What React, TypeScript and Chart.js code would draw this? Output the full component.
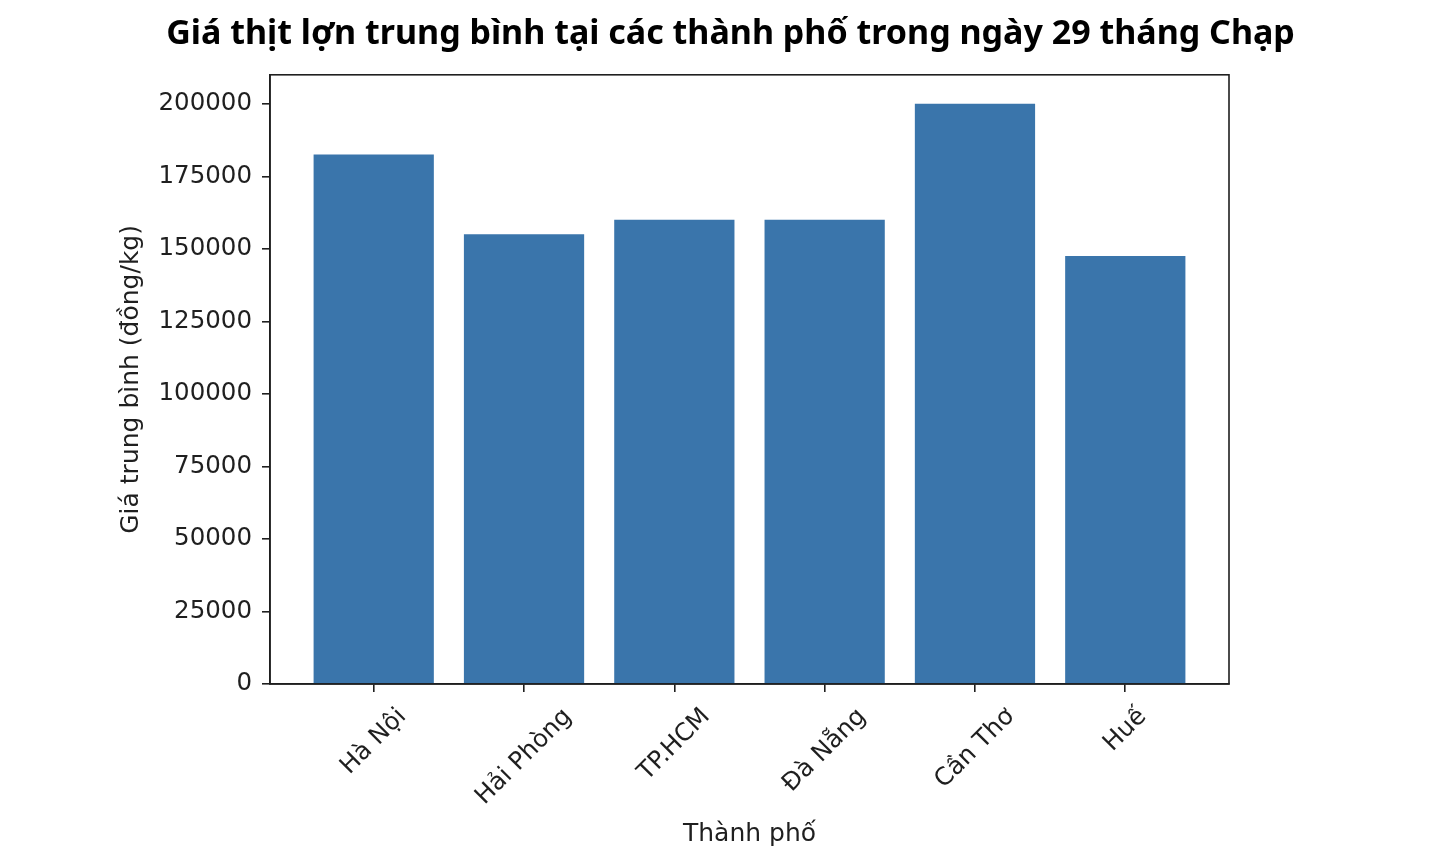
import { useEffect, useRef } from "react"
import { Chart, registerables } from "chart.js"

Chart.register(...registerables)

const cities = ["Hà Nội", "Hải Phòng", "TP.HCM", "Đà Nẵng", "Cần Thơ", "Huế"]
const prices = [182500, 155000, 160000, 160000, 200000, 147500]
const yTicks = [0, 25000, 50000, 75000, 100000, 125000, 150000, 175000, 200000]

const TITLE = "Giá thịt lợn trung bình tại các thành phố trong ngày 29 tháng Chạp"
const AXIS_FONT = "'DejaVu Sans', sans-serif"
const INK = "#1f1f1f"

// matplotlib-style rotated labels: centred under the tick, not right-aligned
const xLabels = {
  id: "xLabels",
  afterDraw(chart: Chart) {
    const { ctx, scales } = chart
    const x = scales.x
    const top = chart.chartArea.bottom + 19
    ctx.save()
    ctx.font = `24.5px ${AXIS_FONT}`
    ctx.fillStyle = INK
    ctx.textAlign = "center"
    ctx.textBaseline = "middle"
    cities.forEach((name, i) => {
      const w = ctx.measureText(name).width
      const cx = x.getPixelForValue(i)
      const cy = top + (w + 28) * 0.3536
      ctx.save()
      ctx.translate(cx, cy)
      ctx.rotate(-Math.PI / 4)
      ctx.fillText(name, 0, 0)
      ctx.restore()
    })
    ctx.restore()
  },
}

// box around the plot area
const frame = {
  id: "frame",
  afterDraw(chart: Chart) {
    const { ctx, chartArea } = chart
    ctx.save()
    ctx.strokeStyle = INK
    ctx.lineWidth = 1.6
    ctx.strokeRect(chartArea.left, chartArea.top, chartArea.right - chartArea.left, chartArea.bottom - chartArea.top)
    ctx.restore()
  },
}

function PriceChart() {
  const chartRef = useRef<HTMLCanvasElement>(null)
  const chartInstance = useRef<Chart | null>(null)

  useEffect(() => {
    if (!chartRef.current) return
    if (chartInstance.current) chartInstance.current.destroy()
    const ctx = chartRef.current.getContext("2d")
    if (!ctx) return

    chartInstance.current = new Chart(ctx, {
      type: "bar",
      data: {
        datasets: [
          {
            label: "Giá trung bình",
            data: prices.map((p, i) => ({ x: i, y: p })),
            backgroundColor: "#3a75ab",
            borderWidth: 0,
            categoryPercentage: 1,
            barPercentage: 0.8,
          },
        ],
      },
      options: {
        responsive: false,
        animation: false,
        layout: { padding: { left: 9, right: 0, top: 0, bottom: 0 } },
        plugins: {
          legend: { display: false },
          tooltip: { enabled: false },
          title: {
            display: true,
            text: TITLE,
            color: "#000",
            font: { family: "'Noto Sans', sans-serif", size: 34, weight: "bold", lineHeight: 1.2 },
            padding: { top: 14, bottom: 20 },
          },
        },
        scales: {
          x: {
            type: "linear",
            position: "bottom",
            min: -0.69,
            max: 5.69,
            offset: false,
            afterBuildTicks: (s) => {
              s.ticks = cities.map((_, i) => ({ value: i }))
            },
            afterFit: (s) => {
              s.height = 178
            },
            ticks: { display: false },
            grid: { offset: false, drawOnChartArea: false, drawTicks: true, tickLength: 8, color: INK, lineWidth: 1.6 },
            border: { display: true, color: INK, width: 1.6 },
            title: {
              display: true,
              text: "Thành phố",
              color: INK,
              font: { family: AXIS_FONT, size: 25 },
              padding: { top: 0, bottom: 13 },
            },
          },
          y: {
            type: "linear",
            position: "left",
            min: 0,
            max: 210000,
            afterBuildTicks: (s) => {
              s.ticks = yTicks.map((v) => ({ value: v }))
            },
            afterFit: (s) => {
              s.width = 261
            },
            ticks: {
              color: INK,
              padding: 10,
              font: { family: AXIS_FONT, size: 24.5 },
              callback: (v) => String(v),
            },
            grid: { drawOnChartArea: false, drawTicks: true, tickLength: 8, color: INK, lineWidth: 1.6 },
            border: { display: true, color: INK, width: 1.6 },
            title: {
              display: true,
              text: "Giá trung bình (đồng/kg)",
              color: INK,
              font: { family: AXIS_FONT, size: 25 },
              padding: { top: 107, bottom: 0 },
            },
          },
          // empty right-hand box that keeps the plot at matplotlib's width
          spacer: {
            type: "linear",
            position: "right",
            display: true,
            afterFit: (s) => {
              s.width = 223
            },
            ticks: { display: false },
            grid: { display: false },
            border: { display: false },
          },
        },
      },
      plugins: [xLabels, frame],
    })

    return () => {
      if (chartInstance.current) {
        chartInstance.current.destroy()
        chartInstance.current = null
      }
    }
  }, [])

  return <canvas ref={chartRef} width={1452} height={862} />
}

export default function App() {
  useEffect(() => {
    document.body.style.margin = "0"
  }, [])
  return (
    <div style={{ width: 1452, height: 862, background: "#fff" }}>
      <PriceChart />
    </div>
  )
}
